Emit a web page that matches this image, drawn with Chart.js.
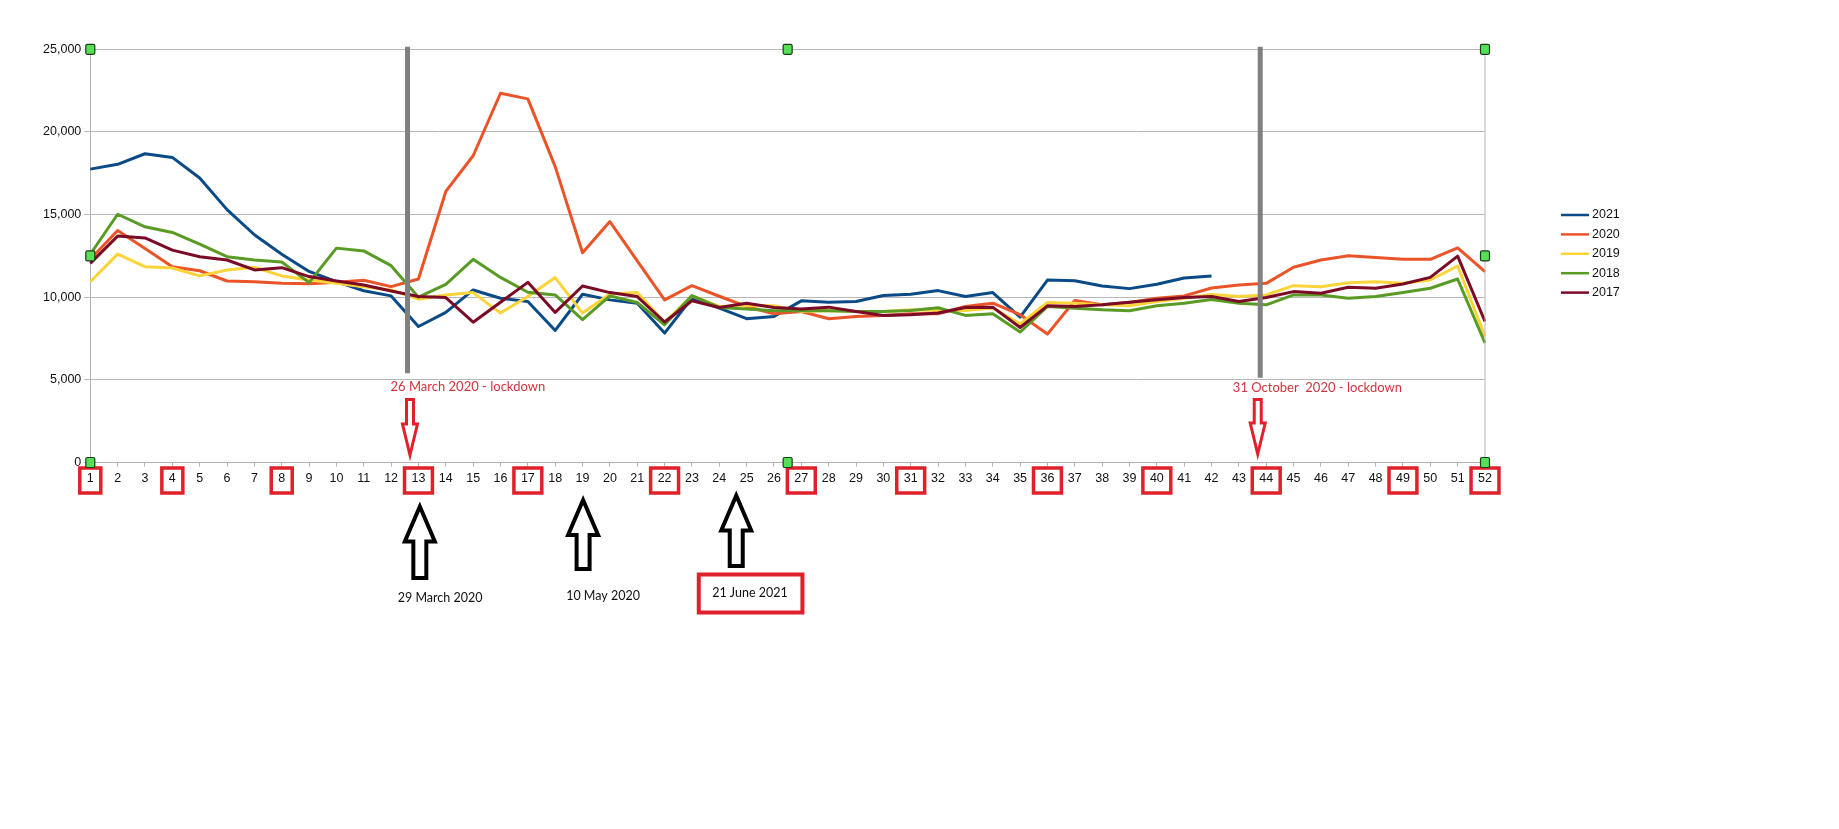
<!DOCTYPE html>
<html><head><meta charset="utf-8">
<script src="https://cdn.jsdelivr.net/npm/chart.js@4.4.1/dist/chart.umd.min.js"></script>
<style>html,body{margin:0;padding:0;background:#fff;}canvas{display:block}</style>
</head><body>
<canvas id="c" width="1839" height="829"></canvas>
<script>
// ---------- data ----------
const weeks = ['1','2','3','4','5','6','7','8','9','10','11','12','13','14','15','16','17','18','19','20','21','22','23','24','25','26','27','28','29','30','31','32','33','34','35','36','37','38','39','40','41','42','43','44','45','46','47','48','49','50','51','52'];
const seriesNames = ['2021','2020','2019','2018','2017'];
const y2021 = [17750,18040,18680,18460,17210,15300,13780,12600,11560,10940,10390,10080,8230,9080,10440,9940,9740,7990,10180,9840,9640,7830,9950,9340,8700,8840,9780,9700,9740,10100,10180,10400,10040,10280,8800,11040,11000,10680,10520,10780,11160,11290];
const y2020 = [12300,14040,12950,11850,11600,10980,10940,10840,10820,10900,11030,10640,11100,16400,18560,22340,22000,17900,12690,14580,12200,9840,10700,10060,9440,9000,9140,8700,8840,8900,9000,9000,9440,9640,8940,7770,9800,9540,9680,9940,10080,10560,10740,10840,11810,12250,12510,12410,12290,12290,12990,11550];
const y2019 = [10940,12610,11850,11770,11290,11650,11810,11290,11040,10840,10640,10440,9880,10140,10280,9040,10040,11190,9040,10200,10280,8480,10080,9440,9500,9480,9140,9200,9140,9140,9240,9200,9200,9340,8390,9680,9640,9540,9480,9740,9940,10170,10040,10140,10700,10640,10880,10940,10840,11040,11890,7630];
const y2018 = [12600,15020,14260,13920,13210,12450,12250,12130,10880,12970,12800,11910,10000,10780,12290,11200,10300,10140,8640,10080,9680,8330,10100,9380,9280,9180,9200,9180,9140,9140,9200,9360,8900,9000,7890,9440,9340,9240,9180,9480,9640,9860,9640,9540,10140,10140,9940,10040,10280,10540,11100,7230];
const y2017 = [12050,13700,13590,12850,12450,12250,11650,11790,11250,10980,10740,10380,10040,9980,8490,9700,10900,9080,10680,10280,10040,8500,9780,9380,9640,9380,9280,9400,9140,8900,8940,9040,9380,9400,8170,9480,9440,9540,9700,9840,9980,10040,9740,9980,10340,10240,10600,10540,10800,11200,12490,8530];
const yTickValues = [0,5000,10000,15000,20000,25000];
const boxedWeeks = ['1','4','8','13','17','22','27','31','36','40','44','49','52'];
const lockdownNotes = ['26 March 2020 - lockdown','31 October  2020 - lockdown'];
const dateNotes = ['29 March 2020','10 May 2020','21 June 2021'];

const colors = ['#0a4a86','#ea5428','#fbd43a','#5a9b26','#7a0a26'];
const FONT = "'Liberation Sans', Arial, sans-serif";
const NOTE_FONT = "Lato, 'Open Sans', sans-serif";

// ---------- annotation plugin ----------
function arrow(ctx, cx, tipY, tailY, headLen, headHalf, shaftHalf, stroke, lw){
  const d = tailY > tipY ? 1 : -1;
  const baseY = tipY + d*headLen;
  ctx.beginPath();
  ctx.moveTo(cx, tipY);
  ctx.lineTo(cx+headHalf, baseY);
  ctx.lineTo(cx+shaftHalf, baseY);
  ctx.lineTo(cx+shaftHalf, tailY);
  ctx.lineTo(cx-shaftHalf, tailY);
  ctx.lineTo(cx-shaftHalf, baseY);
  ctx.lineTo(cx-headHalf, baseY);
  ctx.closePath();
  ctx.fillStyle = '#fff'; ctx.fill();
  ctx.lineJoin = 'miter';
  ctx.strokeStyle = stroke; ctx.lineWidth = lw; ctx.stroke();
}
function handle(ctx, cx, cy){
  ctx.beginPath();
  if (ctx.roundRect) ctx.roundRect(cx-4.5, cy-5, 9, 10, 1.5); else ctx.rect(cx-4.5, cy-5, 9, 10);
  ctx.fillStyle = '#55e055'; ctx.fill();
  ctx.strokeStyle = '#1c3a1c'; ctx.lineWidth = 1.2; ctx.stroke();
}
const overlay = {
  id: 'overlay',
  afterDatasetsDraw(chart){
    const {ctx, chartArea: a, scales: {x, y}} = chart;
    const X = v => x.getPixelForValue(v);
    ctx.save();
    ctx.strokeStyle = '#b8b8b8'; ctx.lineWidth = 1;
    ctx.beginPath(); ctx.moveTo(a.right, a.top); ctx.lineTo(a.right, a.bottom); ctx.stroke();
    ctx.strokeStyle = '#808080'; ctx.lineWidth = 5; ctx.lineCap = 'butt';
    [[11.6, 5400],[42.78, 5130]].forEach(([i, v]) => {
      ctx.beginPath(); ctx.moveTo(X(i), a.top - 2.5); ctx.lineTo(X(i), y.getPixelForValue(v)); ctx.stroke();
    });
    ctx.fillStyle = '#d0353f'; ctx.font = '13px ' + NOTE_FONT; ctx.textBaseline = 'middle'; ctx.textAlign = 'left';
    ctx.fillText(lockdownNotes[0], X(10.98), a.bottom - 75.5);
    ctx.fillText(lockdownNotes[1], X(41.78), a.bottom - 74.5);
    arrow(ctx, X(11.69), a.bottom - 7.5, a.bottom - 63, 31, 7.5, 3.5, '#e0202a', 3);
    arrow(ctx, X(42.69), a.bottom - 8.5, a.bottom - 63, 31, 7.5, 3.5, '#e0202a', 3);
    ctx.font = '12.5px ' + FONT;
    ctx.strokeStyle = '#e0202a'; ctx.lineWidth = 3.5;
    boxedWeeks.forEach(w => {
      const i = weeks.indexOf(w);
      const tw = ctx.measureText(w).width;
      const bw = Math.max(21, tw + 14);
      ctx.strokeRect(X(i) - bw/2, a.bottom + 5.5, bw, 25);
    });
    arrow(ctx, X(12.05), a.bottom + 44, a.bottom + 115.5, 35, 15, 6.5, '#000', 4);
    arrow(ctx, X(18.02), a.bottom + 37.5, a.bottom + 106.5, 35, 15, 6.5, '#000', 4);
    arrow(ctx, X(23.62), a.bottom + 33, a.bottom + 103.5, 35, 15, 6.5, '#000', 4);
    ctx.fillStyle = '#111'; ctx.font = '12.5px ' + NOTE_FONT; ctx.textAlign = 'center';
    ctx.fillText(dateNotes[0], X(12.79), a.bottom + 135.5);
    ctx.fillText(dateNotes[1], X(18.75), a.bottom + 133.5);
    ctx.fillText(dateNotes[2], X(24.12), a.bottom + 130.5);
    ctx.strokeStyle = '#e0202a'; ctx.lineWidth = 4;
    ctx.strokeRect(X(22.25), a.bottom + 112, X(26.04) - X(22.25), 38);
    const mx = (a.left + a.right)/2, my = (a.top + a.bottom)/2;
    [[a.left,a.top],[mx,a.top],[a.right,a.top],[a.left,my],[a.right,my],[a.left,a.bottom],[mx,a.bottom],[a.right,a.bottom]]
      .forEach(([hx,hy]) => handle(ctx, hx, hy));
    ctx.font = '12.5px ' + FONT; ctx.textAlign = 'left'; ctx.textBaseline = 'middle';
    chart.data.datasets.forEach((ds, k) => {
      const ly = 215 + k*19.4;
      ctx.strokeStyle = ds.borderColor; ctx.lineWidth = 2.5;
      ctx.beginPath(); ctx.moveTo(a.right + 76, ly); ctx.lineTo(a.right + 104, ly); ctx.stroke();
      ctx.fillStyle = '#111'; ctx.fillText(ds.label, a.right + 107, ly);
    });
    ctx.restore();
  }
};

const dataSets = [y2021, y2020, y2019, y2018, y2017];
new Chart(document.getElementById('c'), {
  type: 'line',
  data: {
    labels: weeks,
    datasets: seriesNames.map((n, k) => ({
      label: n, data: dataSets[k], borderColor: colors[k], backgroundColor: colors[k],
      borderWidth: 3, pointRadius: 0, tension: 0, fill: false, order: 5 - k,
      borderJoinStyle: 'round', borderCapStyle: 'butt'
    }))
  },
  options: {
    responsive: false, animation: false, devicePixelRatio: 1,
    layout: { padding: { left: 0, top: 49.3, right: 354, bottom: 336.5 } },
    plugins: { legend: { display: false }, tooltip: { enabled: false } },
    scales: {
      x: {
        offset: false,
        grid: { drawOnChartArea: false, drawTicks: true, tickLength: 4, color: '#b3b3b3' },
        border: { color: '#b3b3b3' },
        ticks: { autoSkip: false, maxRotation: 0, padding: 4.5, color: '#111', font: { family: FONT, size: 12.5 } },
        afterFit: s => { s.height = 30; }
      },
      y: {
        min: 0, max: 25000,
        afterBuildTicks: s => { s.ticks = yTickValues.map(v => ({ value: v })); },
        grid: { color: '#b8b8b8', tickLength: 6, lineWidth: 1 },
        border: { color: '#b3b3b3' },
        ticks: { padding: 3, color: '#111', font: { family: FONT, size: 12.5 },
          callback: v => v.toLocaleString('en-US') },
        afterFit: s => { s.width = 90.3; }
      }
    }
  },
  plugins: [overlay]
});
</script>
</body></html>
